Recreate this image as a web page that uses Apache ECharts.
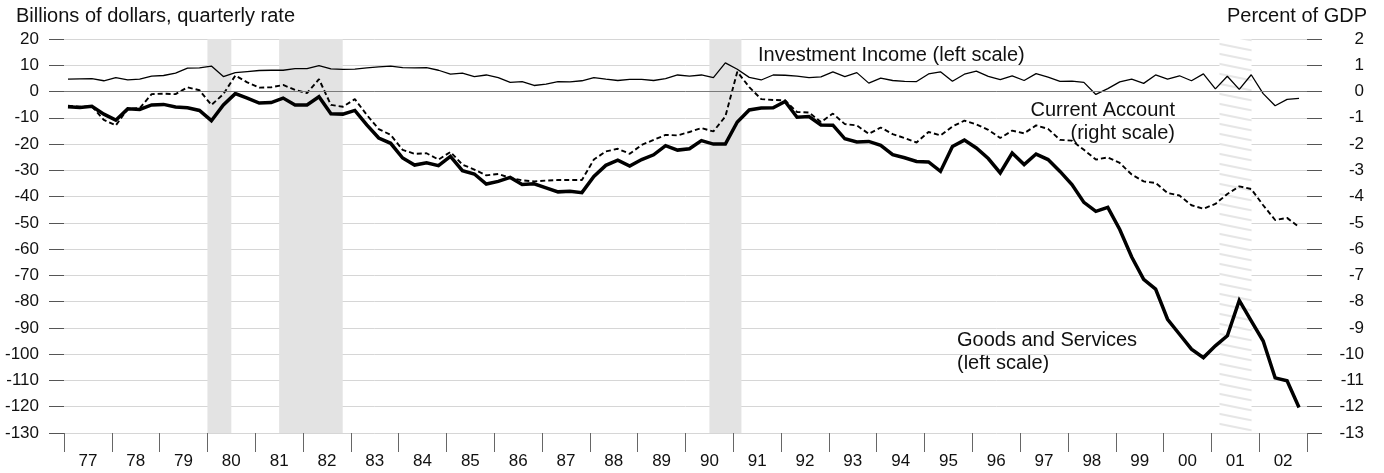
<!DOCTYPE html>
<html>
<head>
<meta charset="utf-8">
<script src="https://cdn.jsdelivr.net/npm/echarts@6/dist/echarts.min.js"></script>
<style>
  html, body { margin: 0; padding: 0; background: #fff; }
  #chart { width: 1384px; height: 473px; }
</style>
</head>
<body>
<div id="chart"></div>
<script>
// U.S. external balances, quarterly, 1977Q1 - 2002Q4
const FONT = "'Liberation Sans', Arial, Helvetica, sans-serif";
const firstYear = 1977;

const yearLabels = ['77','78','79','80','81','82','83','84','85','86','87','88','89',
                    '90','91','92','93','94','95','96','97','98','99','00','01','02'];

// Billions of dollars, quarterly rate (left scale)
const goodsServices = [
  -5.8, -6.1, -5.6, -8.6,     -10.9, -6.6, -6.8, -5.1,    -4.9, -5.9, -6.2, -7.2,
  -11.1, -5.1, -0.8, -2.5,    -4.4, -4.2, -2.5, -5.1,     -5.1, -2.0, -8.5, -8.6,
  -7.2, -12.7, -17.7, -19.7,  -25.3, -28.0, -27.1, -28.2, -24.7, -30.1, -31.4, -35.2,
  -34.2, -32.7, -35.4, -35.1, -36.7, -38.2, -38.0, -38.5, -32.3, -28.1, -26.1, -28.4,
  -25.9, -24.1, -20.6, -22.3, -21.8, -18.7, -20.0, -20.0, -11.6, -7.0, -6.3, -6.2,
  -3.8, -9.8, -9.5, -12.7,    -12.8, -18.0, -19.2, -19.0, -20.5, -24.0, -25.2, -26.6,
  -26.8, -30.4, -20.9, -18.5, -21.5, -25.5, -31.0, -23.4, -27.8, -23.8, -25.9, -30.4,
  -35.4, -42.2, -45.6, -44.1, -52.5, -63.0, -71.5, -75.2, -86.7, -92.4, -98.1, -101.3,
  -96.8, -93.0, -79.5, -87.3, -95.0, -109.0, -110.1, -120.3
];

// Percent of GDP (right scale)
const currentAccount = [
  -0.54, -0.58, -0.56, -1.08, -1.29, -0.66, -0.63, -0.10, -0.08, -0.10, 0.16, 0.05,
  -0.51, -0.10, 0.61, 0.35,   0.15, 0.16, 0.25, 0.06,     -0.06, 0.47, -0.51, -0.58,
  -0.29, -0.89, -1.43, -1.65, -2.22, -2.37, -2.35, -2.59, -2.30, -2.78, -2.97, -3.19,
  -3.14, -3.29, -3.38, -3.42, -3.39, -3.37, -3.37, -3.37, -2.59, -2.28, -2.18, -2.37,
  -2.03, -1.84, -1.65, -1.67, -1.54, -1.39, -1.52, -0.95, 0.75, 0.17, -0.29, -0.32,
  -0.34, -0.78, -0.80, -1.16, -0.84, -1.24, -1.29, -1.61, -1.37, -1.62, -1.77, -1.94,
  -1.54, -1.67, -1.33, -1.11, -1.25, -1.46, -1.77, -1.49, -1.59, -1.29, -1.42, -1.84,
  -1.87, -2.22, -2.59, -2.51, -2.72, -3.16, -3.42, -3.48, -3.86, -3.96, -4.33, -4.46,
  -4.28, -3.90, -3.61, -3.71, -4.33, -4.89, -4.81, -5.16
];

// Billions of dollars, quarterly rate (left scale)
const investmentIncome = [
  4.7, 4.8, 4.9, 4.1,   5.3, 4.4, 4.7, 5.9,   6.1, 7.0, 8.9, 9.0,
  9.7, 5.7, 7.2, 7.6,   8.0, 8.1, 8.1, 8.7,   8.7, 9.9, 8.6, 8.4,
  8.5, 9.0, 9.4, 9.7,   9.1, 9.0, 9.1, 8.1,   6.6, 7.0, 5.7, 6.3,
  5.3, 3.5, 3.8, 2.3,   2.8, 3.8, 3.7, 4.1,   5.3, 4.7, 4.2, 4.6,
  4.6, 4.2, 4.9, 6.3,   5.9, 6.3, 5.3, 10.9,  8.5, 5.4, 4.4, 6.3,
  6.2, 5.9, 5.3, 5.6,   7.5, 5.7, 7.2, 3.2,   5.1, 4.2, 3.9, 3.8,
  6.7, 7.5, 3.9, 6.6,   7.8, 5.8, 4.5, 6.0,   4.2, 6.8, 5.5, 3.9,
  4.0, 3.5, -1.1, 1.1,  3.7, 4.7, 3.1, 6.3,   4.7, 6.0, 4.1, 6.7,
  1.0, 5.8, 0.8, 6.4,   -0.8, -5.4, -3.0, -2.6
];

// Recessions (decimal years); the 2001 one is drawn hatched
const recessions = [[1980.0, 1980.5], [1981.5, 1982.83], [1990.5, 1991.17]];
const recession2001 = [2001.17, 2001.84];

// each quarterly value sits at the start of the quarter's middle month
function quarterX(i) {
  return firstYear + Math.floor(i / 4) + (3 * (i % 4) + 1) / 12;
}
const toPairs = arr => arr.map((v, i) => [quarterX(i), v]);

// diagonal hatch tile
const hatch = document.createElement('canvas');
hatch.width = 50; hatch.height = 10;
(function () {
  const ctx = hatch.getContext('2d');
  ctx.fillStyle = '#ffffff';
  ctx.fillRect(0, 0, 50, 10);
  ctx.strokeStyle = '#e6e6e6';
  ctx.lineWidth = 2.2;
  for (let k = -1; k <= 1; k++) {
    ctx.beginPath();
    ctx.moveTo(0, k * 10);
    ctx.lineTo(50, k * 10 + 10);
    ctx.stroke();
  }
})();

const bandData = recessions.map(([a, b]) => [{ xAxis: a }, { xAxis: b }]);
bandData.push([
  { xAxis: recession2001[0], itemStyle: { color: { image: hatch, repeat: 'repeat' } } },
  { xAxis: recession2001[1] }
]);

const textStyle = (size) => ({ fontFamily: FONT, fontSize: size, color: '#111' });

function label(text, x, y, align) {
  return {
    type: 'text', x: x, y: y, silent: true,
    style: {
      text: text, fill: '#111',
      font: '20px ' + FONT,
      align: align, textAlign: align,
      verticalAlign: 'middle', textVerticalAlign: 'middle'
    }
  };
}

const chart = echarts.init(document.getElementById('chart'), null, { renderer: 'canvas' });

chart.setOption({
  animation: false,
  backgroundColor: '#ffffff',
  grid: { left: 64, right: 77, top: 39, bottom: 40, outerBoundsMode: 'none' },
  xAxis: [
    { type: 'value', min: firstYear, max: 2003, show: false },
    {
      type: 'category', data: yearLabels, boundaryGap: true, position: 'bottom',
      axisLine: { show: false, onZero: false },
      axisTick: { show: true, interval: 0, length: 19, lineStyle: { color: '#666', width: 1 } },
      axisLabel: Object.assign({ interval: 0, margin: 20 }, textStyle(17)),
      splitLine: { show: false }
    }
  ],
  yAxis: [
    {
      type: 'value', min: -130, max: 20, interval: 10, position: 'left',
      axisLine: { show: false },
      axisTick: { show: true, length: 15, lineStyle: { color: '#555', width: 1 } },
      axisLabel: Object.assign({ margin: 25 }, textStyle(17)),
      splitLine: { show: true, lineStyle: { color: '#d6d6d6', width: 1 } }
    },
    {
      type: 'value', min: -13, max: 2, interval: 1, position: 'right',
      axisLine: { show: false },
      axisTick: { show: true, length: 15, lineStyle: { color: '#555', width: 1 } },
      axisLabel: Object.assign({ margin: 57, align: 'right' }, textStyle(17)),
      splitLine: { show: false }
    }
  ],
  series: [
    {
      name: 'Recessions', type: 'line', z: -1, silent: true,
      xAxisIndex: 0, yAxisIndex: 0,
      data: [[firstYear, 0], [2003, 0]],
      symbol: 'none', lineStyle: { opacity: 0 },
      markArea: { silent: true, itemStyle: { color: '#e3e3e3' }, data: bandData }
    },
    {
      name: 'Zero', type: 'line', z: 1, silent: true,
      xAxisIndex: 0, yAxisIndex: 0,
      data: [[firstYear, 0], [2003, 0]],
      symbol: 'none', lineStyle: { opacity: 0 },
      markLine: {
        silent: true, symbol: ['none', 'none'], label: { show: false },
        lineStyle: { color: '#7a7a7a', width: 1, type: 'solid' },
        data: [{ yAxis: 0 }]
      }
    },
    {
      name: 'Current Account', type: 'line', z: 3,
      xAxisIndex: 0, yAxisIndex: 1,
      data: toPairs(currentAccount),
      symbol: 'none', showSymbol: false,
      lineStyle: { color: '#000', width: 1.9, type: [5, 3] }
    },
    {
      name: 'Investment Income', type: 'line', z: 3,
      xAxisIndex: 0, yAxisIndex: 0,
      data: toPairs(investmentIncome),
      symbol: 'none', showSymbol: false,
      lineStyle: { color: '#000', width: 1.3 }
    },
    {
      name: 'Goods and Services', type: 'line', z: 4,
      xAxisIndex: 0, yAxisIndex: 0,
      data: toPairs(goodsServices),
      symbol: 'none', showSymbol: false,
      lineStyle: { color: '#000', width: 3.5, join: 'miter' }
    }
  ],
  graphic: [
    label('Billions of dollars, quarterly rate', 16, 16, 'left'),
    label('Percent of GDP', 1367, 16, 'right'),
    label('Investment Income (left scale)', 758, 55, 'left'),
    label('Current Account', 1175, 110, 'right'),
    label('(right scale)', 1175, 133, 'right'),
    label('Goods and Services', 957, 340, 'left'),
    label('(left scale)', 957, 363, 'left')
  ]
});
</script>
</body>
</html>
